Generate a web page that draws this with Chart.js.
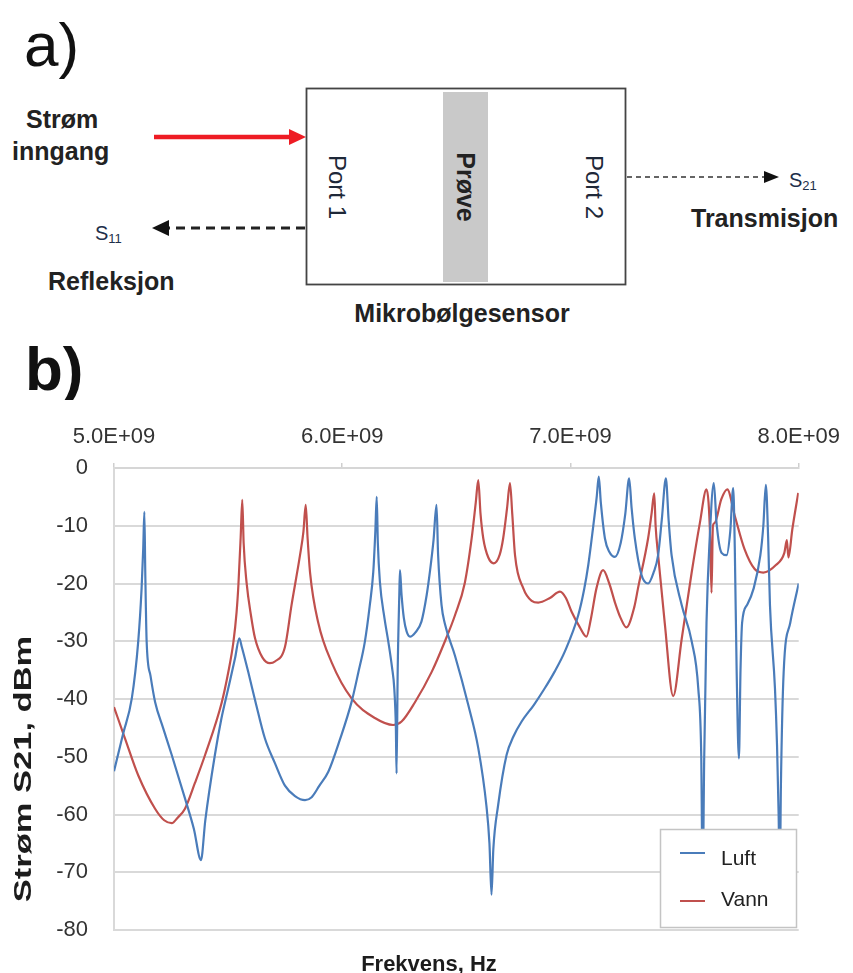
<!DOCTYPE html>
<html>
<head>
<meta charset="utf-8">
<script src="https://cdn.jsdelivr.net/npm/chart.js@4.4.1/dist/chart.umd.min.js"></script>
<style>
  body { margin: 0; background: #fff; }
  #page { position: relative; width: 853px; height: 973px; overflow: hidden; font-family: "Liberation Sans", Arial, sans-serif; }
  #diagram { position: absolute; left: 0; top: 0; }
  #chartBox { position: absolute; left: 0; top: 400px; width: 853px; height: 573px; }
</style>
</head>
<body>
<div id="page">
<svg id="diagram" width="853" height="400" font-family="Liberation Sans, Arial, sans-serif">
  <text x="24" y="66" font-size="62" fill="#111">a)</text>
  <text x="26" y="128" font-size="25" font-weight="bold" fill="#222">Strøm</text>
  <text x="12" y="160" font-size="25" font-weight="bold" fill="#222">inngang</text>
  <line x1="154" y1="137" x2="292" y2="137" stroke="#ee1c24" stroke-width="4.5"/>
  <polygon points="289,129 306,137 289,145" fill="#ee1c24"/>
  <rect x="306.5" y="88.5" width="319" height="196" fill="#fff" stroke="#444" stroke-width="1.8"/>
  <rect x="443" y="92" width="45" height="190" fill="#c9c9c9"/>
  <text transform="translate(337,187) rotate(90)" text-anchor="middle" dominant-baseline="central" font-size="24" fill="#1e2838">Port 1</text>
  <text transform="translate(466,187) rotate(90)" text-anchor="middle" dominant-baseline="central" font-size="25" font-weight="bold" fill="#222">Prøve</text>
  <text transform="translate(594,187) rotate(90)" text-anchor="middle" dominant-baseline="central" font-size="24" fill="#1e2838">Port 2</text>
  <line x1="627" y1="177" x2="764" y2="177" stroke="#333" stroke-width="1.6" stroke-dasharray="5 4"/>
  <polygon points="764,171 779,177 764,183" fill="#111"/>
  <text x="789" y="187" font-size="20" fill="#1e2f4a">S<tspan font-size="13" dy="3">21</tspan></text>
  <text x="691" y="227" font-size="25" font-weight="bold" fill="#222">Transmisjon</text>
  <line x1="305" y1="228" x2="168" y2="228" stroke="#222" stroke-width="3" stroke-dasharray="9 6"/>
  <polygon points="169,220 152,228 169,236" fill="#111"/>
  <text x="95" y="240" font-size="20" fill="#1e2f4a">S<tspan font-size="13" dy="3">11</tspan></text>
  <text x="48" y="290" font-size="25" font-weight="bold" fill="#222">Refleksjon</text>
  <text x="462" y="322" text-anchor="middle" font-size="25" font-weight="bold" fill="#222">Mikrobølgesensor</text>
  <text x="25" y="390" font-size="62" font-weight="bold" fill="#111">b)</text>
</svg>
<div id="chartBox"><canvas id="myChart" width="853" height="573"></canvas></div>
</div>
<script>
'use strict';

// ***** DATA *****
// frequency in GHz (axis shows it as E+09 Hz), power in dBm
let luftFreq = [5.000, 5.040, 5.078, 5.106, 5.121, 5.128, 5.133, 5.137, 5.143, 5.160, 5.180, 5.215, 5.253, 5.311, 5.350,
  5.381, 5.400, 5.442, 5.470, 5.501, 5.530, 5.549, 5.560, 5.588, 5.620, 5.661, 5.705, 5.749, 5.793, 5.837, 5.866, 5.900,
  5.939, 5.990, 6.041, 6.070, 6.099, 6.120, 6.136, 6.145, 6.151, 6.156, 6.165, 6.185, 6.202, 6.218, 6.228, 6.235, 6.238,
  6.243, 6.250, 6.253, 6.260, 6.270, 6.282, 6.297, 6.320, 6.347, 6.370, 6.384, 6.400, 6.413, 6.420, 6.435, 6.450, 6.494,
  6.552, 6.596, 6.632, 6.645, 6.654, 6.662, 6.683, 6.720, 6.750, 6.786, 6.840, 6.888, 6.930, 6.975, 7.034, 7.060, 7.078,
  7.100, 7.115, 7.124, 7.133, 7.151, 7.170, 7.195, 7.220, 7.240, 7.257, 7.268, 7.282, 7.311, 7.340, 7.365, 7.384, 7.400,
  7.418, 7.430, 7.443, 7.487, 7.531, 7.560, 7.573, 7.579, 7.586, 7.596, 7.610, 7.628, 7.640, 7.662, 7.684, 7.700, 7.713,
  7.720, 7.728, 7.738, 7.745, 7.752, 7.774, 7.803, 7.832, 7.845, 7.856, 7.866, 7.874, 7.896, 7.905, 7.912, 7.917, 7.922,
  7.934, 7.963, 8.000];
let luftDb = [-52.5, -46, -39.9, -30.1, -20.8, -14, -7.6, -18, -30, -36, -40.5, -45, -49.7, -57.2, -62.5,
  -67.9, -61, -49.7, -43.5, -38.1, -33, -29.5, -31, -35.3, -40.5, -46.8, -51.1, -55, -56.8, -57.5, -57, -55,
  -52.6, -47, -40.5, -35.5, -30.1, -24, -18, -11, -5, -13, -19.7, -26, -30.1, -34.5, -38.2, -45, -52.9,
  -35, -22, -17.7, -22, -26, -28.3, -29.2, -28.5, -26.6, -22, -18, -12.5, -6.4, -15, -23.7, -27, -32.5,
  -41, -48.5, -58.6, -65, -73.9, -66, -58.4, -49.7, -46.5, -43.9, -41, -38.1, -35.3, -31.8, -25.5, -21, -16.8,
  -10, -5, -1.5, -6, -12.2, -14.5, -15.4, -13, -8, -1.8, -7, -12.2, -18.5, -20, -18, -15.1, -9,
  -1.8, -9, -15.1, -23.7, -30, -38.2, -50, -72, -50, -26.8, -12.2, -2.6, -9.5, -14.7, -15.1, -11, -3.5,
  -14, -35, -50.3, -35, -26.8, -23.7, -20.8, -15.1, -10, -2.9, -12, -23.7, -38.2, -48, -60, -72, -55,
  -35.4, -26.8, -20];

let vannFreq = [5.000, 5.048, 5.106, 5.180, 5.220, 5.253, 5.280, 5.311, 5.355, 5.399, 5.472, 5.500, 5.523, 5.537, 5.545,
  5.555, 5.562, 5.568, 5.581, 5.600, 5.618, 5.650, 5.683, 5.705, 5.749, 5.778, 5.815, 5.830, 5.840, 5.848, 5.859, 5.895,
  5.954, 6.041, 6.143, 6.223, 6.260, 6.318, 6.392, 6.450, 6.494, 6.537, 6.567, 6.585, 6.596, 6.606, 6.618, 6.640, 6.664,
  6.690, 6.705, 6.722, 6.735, 6.745, 6.757, 6.793, 6.830, 6.859, 6.910, 6.954, 6.980, 7.005, 7.040, 7.070, 7.090, 7.114,
  7.143, 7.170, 7.195, 7.220, 7.245, 7.280, 7.296, 7.340, 7.355, 7.367, 7.373, 7.384, 7.413, 7.450, 7.487, 7.531, 7.567,
  7.596, 7.605, 7.612, 7.618, 7.624, 7.632, 7.661, 7.687, 7.720, 7.763, 7.807, 7.845, 7.900, 7.937, 7.948, 7.955, 7.972,
  7.998];
let vannDb = [-41.4, -46.8, -53.2, -59, -61, -61.5, -60.5, -59, -54.5, -49.7, -40.6, -35.5, -30.2, -25, -20.3,
  -12, -5.5, -13, -19.9, -25.5, -29.5, -32.8, -33.8, -33.5, -31, -23.7, -15.1, -11, -6.4, -12, -18.1, -26.8,
  -33.7, -39.9, -43.3, -44.5, -43.9, -40.6, -35.3, -30, -25.5, -19.9, -12.2, -6, -2.1, -8, -12.2, -15.5, -16.5,
  -15, -12.2, -7, -2.6, -8, -15.1, -20.8, -23, -23.3, -22.5, -21.4, -22.5, -24.9, -27.5, -29.2, -26, -20.8,
  -17.7, -20, -23.3, -26, -27.6, -24, -20.8, -12.2, -8, -4.4, -10, -15.1, -26.8, -39.5, -29.7, -18.1, -9.5,
  -3.7, -6, -12, -21.6, -10, -9.5, -5.4, -3.7, -8.3, -14.1, -17.5, -18.1, -16.8, -14.7, -12.5, -15.5, -10.6,
  -4.3];

let xTickValues = [5, 6, 7, 8];
let xTickLabels = ['5.0E+09', '6.0E+09', '7.0E+09', '8.0E+09'];
let yTickValues = [0, -10, -20, -30, -40, -50, -60, -70, -80];
let seriesNames = ['Luft', 'Vann'];
let xTitle = 'Frekvens, Hz';
let yTitle = 'Strøm S21, dBm';

// ***** HELPERS *****
function toPoints(freqs, values) {
  let pts = [];
  for (let i = 0; i < freqs.length; i++) {
    pts.push({ x: freqs[i], y: values[i] });
  }
  return pts;
}

const labelFont = '"Liberation Sans", Arial, sans-serif';

// titles and the boxed legend inside the plot are drawn here
let extrasPlugin = {
  id: 'extras',
  afterDraw(chart) {
    let c = chart.ctx;
    // y title, stretched along its length like in the scan
    c.save();
    c.translate(25, 369);
    c.rotate(-Math.PI / 2);
    c.scale(1.5, 1);
    c.font = 'bold 23px ' + labelFont;
    c.fillStyle = '#1c1c1c';
    c.textAlign = 'center';
    c.textBaseline = 'middle';
    c.fillText(yTitle, 0, 0);
    c.restore();

    // x title at the bottom
    c.save();
    c.font = 'bold 22px ' + labelFont;
    c.fillStyle = '#1c1c1c';
    c.textAlign = 'center';
    c.textBaseline = 'alphabetic';
    c.fillText(xTitle, 429, 571);
    c.restore();

    // legend box
    c.save();
    c.fillStyle = '#fff';
    c.fillRect(660, 429, 136, 98);
    c.strokeStyle = '#c4c4c4';
    c.lineWidth = 1.5;
    c.strokeRect(660.5, 429.5, 136, 98);
    let rows = [{ sy: 453, ty: 459 }, { sy: 501, ty: 500 }];
    chart.data.datasets.forEach((ds, i) => {
      c.strokeStyle = ds.borderColor;
      c.lineWidth = 2;
      c.beginPath();
      c.moveTo(680, rows[i].sy);
      c.lineTo(705, rows[i].sy);
      c.stroke();
      c.font = '21px ' + labelFont;
      c.fillStyle = '#222';
      c.textAlign = 'left';
      c.textBaseline = 'middle';
      c.fillText(ds.label, 721, rows[i].ty);
    });
    c.restore();
  }
};

// ***** CHART *****
let ctx = document.getElementById('myChart');

let chartObj = {
  type: 'line',
  data: {
    datasets: [{
      label: seriesNames[0],
      data: toPoints(luftFreq, luftDb),
      borderColor: '#4a7cba',
      borderWidth: 2.2,
      pointRadius: 0,
      cubicInterpolationMode: 'monotone'
    },
    {
      label: seriesNames[1],
      data: toPoints(vannFreq, vannDb),
      borderColor: '#c0504d',
      borderWidth: 2.2,
      pointRadius: 0,
      cubicInterpolationMode: 'monotone'
    }]
  },
  options: {
    responsive: false,
    animation: false,
    devicePixelRatio: 1,
    layout: { padding: { left: 0, right: 54, top: 0, bottom: 43 } },
    plugins: {
      legend: { display: false },
      tooltip: { enabled: false }
    },
    scales: {
      x: {
        type: 'linear',
        position: 'top',
        min: 5,
        max: 8,
        afterBuildTicks(scale) {
          scale.ticks = xTickValues.map(v => ({ value: v }));
        },
        afterFit(scale) { scale.height = 68; },
        ticks: {
          padding: 13,
          color: '#333',
          font: { family: labelFont, size: 22 },
          maxRotation: 0,
          callback: (v, i) => xTickLabels[i]
        },
        grid: { drawOnChartArea: false, drawTicks: true, tickLength: 5, color: '#cfcfcf', lineWidth: 1.5 },
        border: { display: true, color: '#d6d6d6', width: 2 }
      },
      y: {
        min: -80,
        max: 0,
        afterBuildTicks(scale) {
          scale.ticks = yTickValues.map(v => ({ value: v }));
        },
        afterFit(scale) { scale.width = 114; },
        ticks: {
          padding: 26,
          color: '#333',
          font: { family: labelFont, size: 22 }
        },
        grid: { drawTicks: false, color: '#d9d9d9', lineWidth: 2 },
        border: { display: true, color: '#d9d9d9', width: 2 }
      }
    }
  },
  plugins: [extrasPlugin]
};

new Chart(ctx, chartObj);
</script>
</body>
</html>
